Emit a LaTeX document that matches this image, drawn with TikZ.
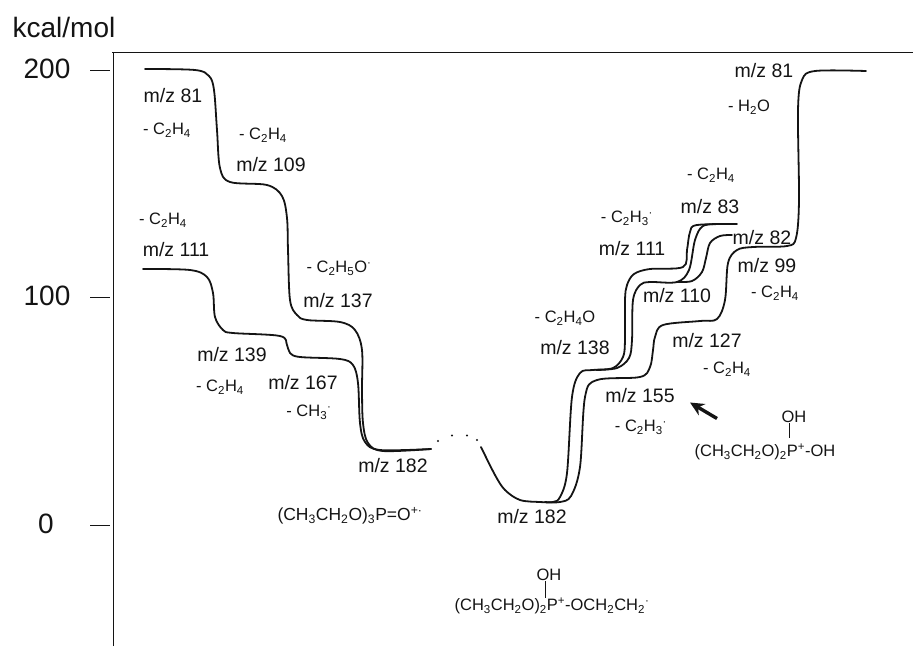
\documentclass[tikz,border=0pt]{standalone}
\usepackage{fontspec}
\setmainfont{Liberation Sans}
\usetikzlibrary{arrows.meta}
\definecolor{ink}{RGB}{20,20,20}
\newcommand{\nsub}[1]{\textsubscript{#1}}
\newcommand{\nsup}[1]{\textsuperscript{#1}}
\newcommand{\ethene}{- C\nsub{2}H\nsub{4}}
\newcommand{\ethyl}{- C\nsub{2}H\nsub{3}\nsup{·}}
\tikzset{
  jaxis/.style={ink,line width=1pt},
  jpath/.style={ink,line width=1.8pt,line join=round,line cap=round},
  jmass/.style={ink,inner sep=0pt,font=\fontsize{19.5}{22}\selectfont},
  jloss/.style={ink,inner sep=0pt,font=\fontsize{16.5}{19}\selectfont},
  jtick/.style={ink,inner sep=0pt,font=\fontsize{28}{32}\selectfont},
  jion/.style={ink,inner sep=0pt,font=\fontsize{16.5}{19}\selectfont},
}
\begin{document}
\begin{tikzpicture}[x=1pt,y=-1pt]
  \useasboundingbox (0,0) rectangle (913,646);
  \node[jtick] (unit) at (64,27) {kcal/mol};
  \draw[jaxis] (113,646) -- (113,53);
  \draw[ink,line width=1.6pt] (112,52.5) -- (913,52.5);
  \foreach \y/\t/\x in {70/200/47,297/100/47,525/0/46} {
    \draw[jaxis] (90,\y) -- (110,\y);
    \node[jtick] (tick\t) at (\x,\y-1) {\t};
  }
  % left wells
  \draw[jpath] plot[smooth,tension=0.55] coordinates {(145,69) (195,70) (209,76) (214,90) (217,130)
    (220,168) (230,182) (267,185) (282,196) (287,218) (288,250) (290,300) (297,315) (307,320)
    (340,322) (355,330) (362,350) (362,390) (363,423) (368,443) (383,451) (431,449)};
  \draw[jpath] plot[smooth,tension=0.55] coordinates {(143,269) (190,270) (207,277) (213,293) (215,317)
    (223,330) (233,333) (280,336) (287,345) (290,353) (300,357) (340,359) (353,365) (358,383)
    (360,423) (365,442) (380,450) (431,449)};
  \foreach \p in {(438,441),(452,435.5),(467,435.5),(477,440)} {\fill[ink] \p circle (1.2pt);}
  % right well
  \draw[jpath] plot[smooth,tension=0.55] coordinates {(481,447) (495,475) (505,490) (520,500) (540,502)
    (553,502) (560,497) (567,473) (572,397) (580,373) (593,370) (613,368) (623,357) (625,340)
    (625,300) (627,285) (634,274) (650,269) (683,267) (687,250) (690,232) (697,225) (737,224)};
  \draw[jpath] plot[smooth,tension=0.55] coordinates {(596,370) (617,368) (629,358) (632,340)
    (633,300) (640,285) (650,282) (677,282) (689,270) (695,240) (703,226) (720,224)};
  \draw[jpath] plot[smooth,tension=0.55] coordinates {(677,282) (692,281) (702,272) (706,258) (710,243)
    (720,236) (732,235)};
  \draw[jpath] plot[smooth,tension=0.55] coordinates {(545,502) (560,502) (571,496) (580,467) (585,397)
    (597,380) (640,377) (650,367) (653,350) (655,337) (663,325) (700,321) (717,319) (725,300)
    (728,263) (737,250) (753,247) (787,246) (796,238) (799,200) (798,110) (802,80) (815,71) (866,71)};
  % masses
  \foreach \n/\x/\y/\t in {ma/173/96/81,mb/271/165/109,mc/176/250/111,md/232/355/139,
      me/303/383/167,mf/338/301/137,mg/393/466/182,mh/532/517/182,mi/764/71/81,
      mj/710/207/83,mk/632/249/111,ml/762/238/82,mm/767/266/99,mn/677/296/110,
      mo/575/348/138,mp/707/341/127,mq/640/396/155} {
    \node[jmass] (\n) at (\x,\y) {m/z \t};
  }
  % losses
  \foreach \n/\x/\y in {la/167/130,lb/263/135,lc/163/220,ld/220/387,le/711/175,lf/775/293,lg/727/369} {
    \node[jloss] (\n) at (\x,\y) {\ethene};
  }
  \foreach \n/\x/\y in {lh/627/218,li/641/427} {
    \node[jloss] (\n) at (\x,\y) {\ethyl};
  }
  \node[jloss] (lj) at (309,412) {- CH\nsub{3}\nsup{·}};
  \node[jloss] (lk) at (339,268) {- C\nsub{2}H\nsub{5}O\nsup{·}};
  \node[jloss] (ll) at (565,318) {- C\nsub{2}H\nsub{4}O};
  \node[jloss] (lm) at (749,107) {- H\nsub{2}O};
  % ions
  \node[jion,font=\fontsize{17.5}{20}\selectfont] (iona) at (350,516) {(CH\nsub{3}CH\nsub{2}O)\nsub{3}P=O\nsup{+·}};
  \node[jion] (ionb) at (552,606) {(CH\nsub{3}CH\nsub{2}O)\nsub{2}P\nsup{+}-OCH\nsub{2}CH\nsub{2}\nsup{·}};
  \node[jion] (ohb) at (549,575) {OH};
  \coordinate (pb) at (545,598);
  \draw[ink,line width=0.8pt] (ohb.south -| pb) -- (pb);
  \node[jion] (ionc) at (765,452) {(CH\nsub{3}CH\nsub{2}O)\nsub{2}P\nsup{+}-OH};
  \node[jion] (ohc) at (794,417) {OH};
  \coordinate (pc) at (789,438);
  \draw[ink,line width=0.8pt] (ohc.south -| pc) -- (pc);
  \coordinate (ta) at (717,418.5);
  \coordinate (tb) at (690,402.5);
  \draw[ink,line width=3.4pt,-{Stealth[length=14pt,width=13pt]}] (ta) -- (tb);
\end{tikzpicture}
\end{document}
